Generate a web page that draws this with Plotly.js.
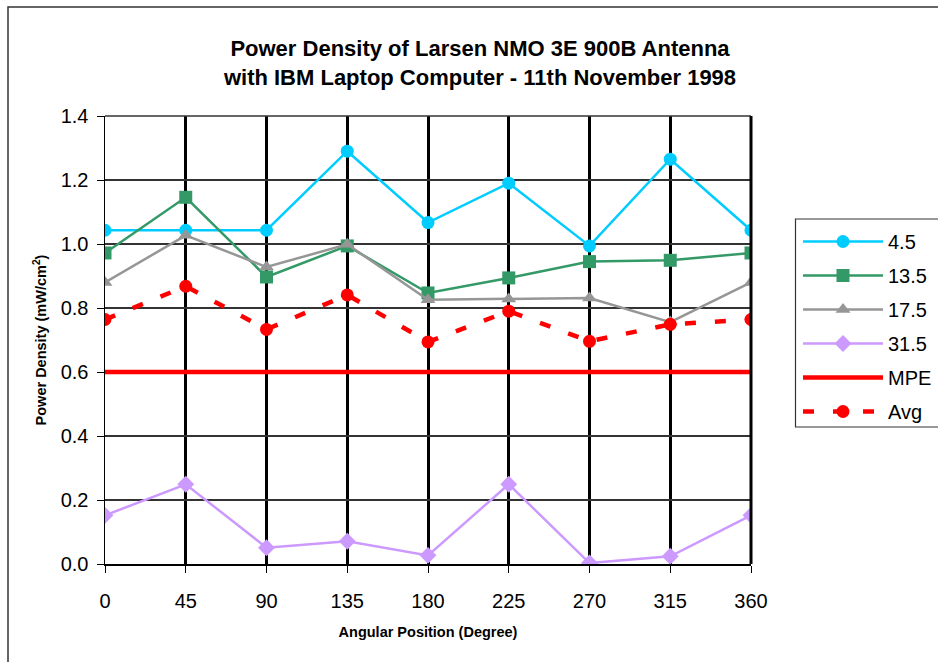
<!DOCTYPE html>
<html>
<head>
<meta charset="utf-8">
<script src="https://cdn.plot.ly/plotly-3.0.1.min.js"></script>
<style>html,body{margin:0;padding:0;background:#fff;}#chart{width:938px;height:662px;}</style>
</head>
<body>
<div id="chart"></div>
<script>
// Data
var angles = [0, 45, 90, 135, 180, 225, 270, 315, 360];
var s4_5  = [1.043, 1.043, 1.043, 1.290, 1.067, 1.190, 0.994, 1.265, 1.043];
var s13_5 = [0.972, 1.146, 0.897, 0.994, 0.847, 0.894, 0.945, 0.949, 0.972];
var s17_5 = [0.880, 1.027, 0.928, 0.999, 0.826, 0.828, 0.831, 0.756, 0.880];
var s31_5 = [0.152, 0.249, 0.051, 0.071, 0.027, 0.249, 0.003, 0.024, 0.152];
var mpe   = [0.6, 0.6, 0.6, 0.6, 0.6, 0.6, 0.6, 0.6, 0.6];
var avg   = [0.764, 0.868, 0.733, 0.841, 0.694, 0.790, 0.696, 0.749, 0.764];
var seriesNames = ['4.5', '13.5', '17.5', '31.5', 'MPE', 'Avg'];
var xTicks = [0, 45, 90, 135, 180, 225, 270, 315, 360];
var yTicks = [0, 0.2, 0.4, 0.6, 0.8, 1.0, 1.2, 1.4];

var FONT = 'Liberation Sans, Arial, sans-serif';

function series(name, y, color, symbol, grp) {
  return {
    x: angles, y: y, name: name, type: 'scatter', mode: 'lines+markers',
    line: {color: color, width: 2.5},
    marker: {color: color, symbol: symbol, size: 13},
    legendgroup: grp
  };
}

var traces = [
  series(seriesNames[0], s4_5, '#00CCFF', 'circle', 'a'),
  series(seriesNames[1], s13_5, '#339966', 'square', 'b'),
  series(seriesNames[2], s17_5, '#969696', 'triangle-up', 'c'),
  series(seriesNames[3], s31_5, '#CC99FF', 'diamond', 'd'),
  {x: angles, y: mpe, name: seriesNames[4], type: 'scatter', mode: 'lines',
   line: {color: '#FF0000', width: 4.5}, legendgroup: 'e'},
  {x: angles, y: avg, name: seriesNames[5], type: 'scatter', mode: 'lines+markers',
   line: {color: '#FF0000', width: 4.5, dash: '11px,19px'},
   marker: {color: '#FF0000', symbol: 'circle', size: 13}, legendgroup: 'f'}
];

var L = 105, R = 751, T = 116, B = 564, W = 938, H = 662;
function px(xp) { return (xp - L) / (R - L); }
function py(yp) { return (B - yp) / (B - T); }

var layout = {
  width: W, height: H,
  margin: {l: L, r: W - R, t: T, b: H - B, pad: 0, autoexpand: false},
  paper_bgcolor: '#ffffff', plot_bgcolor: '#ffffff',
  font: {family: FONT, color: '#000'},
  showlegend: true,
  title: {
    text: '<b>Power Density of Larsen NMO 3E 900B Antenna<br>with IBM Laptop Computer - 11th November 1998</b>',
    font: {family: FONT, size: 22, color: '#000'},
    x: 480 / W, xref: 'container', xanchor: 'center',
    y: 1 - 56 / H, yref: 'container', yanchor: 'middle'
  },
  xaxis: {
    range: [0, 360], tickvals: xTicks, ticktext: xTicks.map(String),
    showgrid: true, gridcolor: '#000', gridwidth: 3,
    showline: true, linecolor: '#000', linewidth: 1.5,
    ticks: 'outside', ticklen: 7, tickcolor: '#000', tickwidth: 1,
    tickfont: {family: FONT, size: 20, color: '#000'}, ticklabelstandoff: 11,
    zeroline: false, fixedrange: true,
    title: {text: '<b>Angular Position (Degree)</b>', font: {family: FONT, size: 14.5, color: '#000'}, standoff: 16}
  },
  yaxis: {
    range: [0, 1.4], tickvals: yTicks, ticktext: yTicks.map(function (v) { return v.toFixed(1); }),
    showgrid: true, gridcolor: '#333', gridwidth: 1.5,
    showline: true, linecolor: '#000', linewidth: 1.5,
    ticks: 'outside', ticklen: 7, tickcolor: '#000', tickwidth: 1,
    tickfont: {family: FONT, size: 20, color: '#000'}, ticklabelstandoff: 4,
    zeroline: false, fixedrange: true,
    title: {text: '<b>Power Density (mW/cm<sup>2</sup>)</b>', font: {family: FONT, size: 14.5, color: '#000'}, standoff: 10}
  },
  legend: {
    x: px(798), y: py(222), xanchor: 'left', yanchor: 'top',
    bgcolor: 'rgba(0,0,0,0)', borderwidth: 0,
    font: {family: FONT, size: 20, color: '#000'},
    itemwidth: 80, tracegroupgap: 5, traceorder: 'grouped'
  },
  shapes: [
    // outer chart border
    {type: 'rect', xref: 'paper', yref: 'paper', x0: px(8), x1: px(960), y0: py(680), y1: py(7),
     line: {color: '#333', width: 1.5}, layer: 'below'},
    // legend box
    {type: 'rect', xref: 'paper', yref: 'paper', x0: px(795.5), x1: px(960), y0: py(427), y1: py(219),
     line: {color: '#333', width: 1.2}, layer: 'below'},
    // plot area top and right border
    {type: 'line', xref: 'paper', yref: 'paper', x0: 0, x1: 1, y0: 1, y1: 1, line: {color: '#333', width: 1.5}},
    {type: 'line', xref: 'paper', yref: 'paper', x0: 1, x1: 1, y0: 0, y1: 1, line: {color: '#000', width: 3}}
  ]
};

Plotly.newPlot('chart', traces, layout, {displayModeBar: false, staticPlot: true});
</script>
</body>
</html>
